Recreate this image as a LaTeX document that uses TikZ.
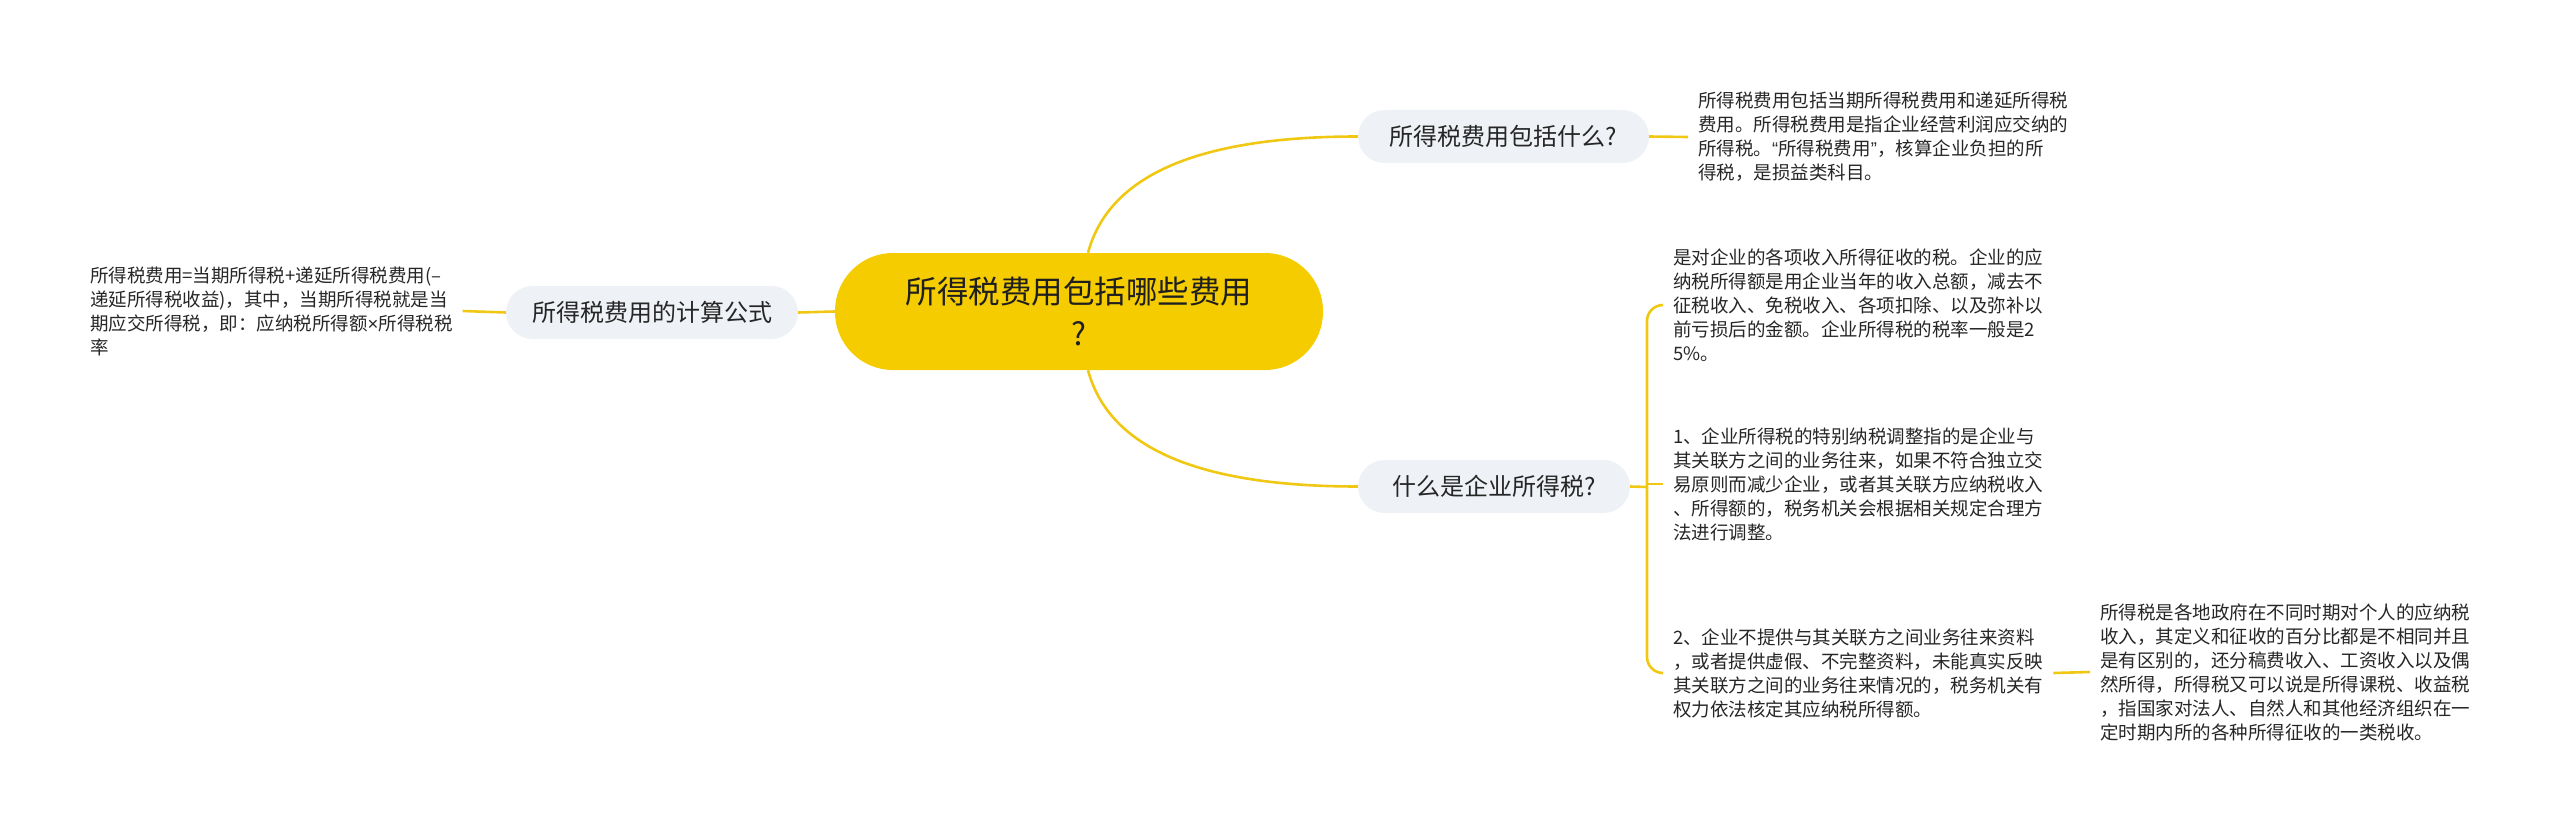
\documentclass[tikz,border=0pt]{standalone}
\usepackage{fontspec}
\setmainfont{Noto Sans CJK SC}
\newfontfamily\latinfont{Liberation Sans}
\usetikzlibrary{calc}
\definecolor{cyel}{HTML}{F5CC00}
\definecolor{lnyel}{HTML}{F0C814}
\definecolor{subfill}{HTML}{EEF1F5}
\definecolor{txt}{HTML}{262626}
\definecolor{ctxt}{HTML}{1F1F1F}
\begin{document}
\begin{tikzpicture}[x=1pt,y=-1pt,
  central/.style={fill=cyel, rounded corners=58pt, minimum width=488pt, minimum height=117pt, inner sep=0pt, align=center, font=\fontsize{31.5}{42}\selectfont, text=ctxt},
  topic/.style={fill=subfill, rounded corners=26.5pt, minimum height=53pt, inner sep=0pt, font=\fontsize{24}{28}\selectfont, text=txt},
  para/.style={inner xsep=10pt, inner ysep=0pt, align=left, font=\fontsize{18.5}{24}\selectfont, text=txt},
  conn/.style={draw=lnyel, line width=2.6pt}]
\useasboundingbox (0,0) rectangle (2560,832);

% nodes
\node[central] (c) at (1079,311.5) {所得税费用包括哪些费用\\?};
\node[topic, minimum width=291pt] (t1) at (1503.5,136.5) {所得税费用包括什么?};
\node[topic, minimum width=272pt] (t2) at (1494,486.5) {什么是企业所得税?};
\node[topic, minimum width=292pt] (t3) at (652,312.5) {所得税费用的计算公式};

\node[para, anchor=west] (p0) at (1688,137) {所得税费用包括当期所得税费用和递延所得税\\费用。所得税费用是指企业经营利润应交纳的\\所得税。{\latinfont“}所得税费用{\latinfont”}，核算企业负担的所\\得税，是损益类科目。};
\node[para, anchor=west] (pl) at (80,311) {所得税费用=当期所得税+递延所得税费用(–\\递延所得税收益)，其中，当期所得税就是当\\期应交所得税，即：应纳税所得额{\latinfont ×}所得税税\\率};
\node[para, anchor=west] (p1) at (1663,305) {是对企业的各项收入所得征收的税。企业的应\\纳税所得额是用企业当年的收入总额，减去不\\征税收入、免税收入、各项扣除、以及弥补以\\前亏损后的金额。企业所得税的税率一般是2\\5\%。};
\node[para, anchor=west] (p2) at (1663,484) {1、企业所得税的特别纳税调整指的是企业与\\其关联方之间的业务往来，如果不符合独立交\\易原则而减少企业，或者其关联方应纳税收入\\、所得额的，税务机关会根据相关规定合理方\\法进行调整。};
\node[para, anchor=west] (p3) at (1663,673) {2、企业不提供与其关联方之间业务往来资料\\，或者提供虚假、不完整资料，未能真实反映\\其关联方之间的业务往来情况的，税务机关有\\权力依法核定其应纳税所得额。};
\node[para, anchor=west] (p4) at (2090,672) {所得税是各地政府在不同时期对个人的应纳税\\收入，其定义和征收的百分比都是不相同并且\\是有区别的，还分稿费收入、工资收入以及偶\\然所得，所得税又可以说是所得课税、收益税\\，指国家对法人、自然人和其他经济组织在一\\定时期内所的各种所得征收的一类税收。};

\coordinate (bk) at (1647,487);

% connectors
\draw[conn] ($(c.north)+(9,0)$) .. controls +(21,-78) and +(-159,0) .. (t1.west);
\draw[conn] ($(c.south)+(9,0)$) .. controls +(21,78) and +(-159,0) .. (t2.west);
\draw[conn] (c.west) -- (t3.east);
\draw[conn] (t3.west) -- (pl.east);
\draw[conn] (t1.east) -- (p0.west);
\draw[conn] (t2.east) -- (bk);
\draw[conn, rounded corners=16pt] (p1.west) -| (bk);
\draw[conn, rounded corners=16pt] (p3.west) -| (bk);
\draw[conn] (bk |- p2.west) -- (p2.west);
\draw[conn] (p3.east) -- (p4.west);
\end{tikzpicture}
\end{document}
